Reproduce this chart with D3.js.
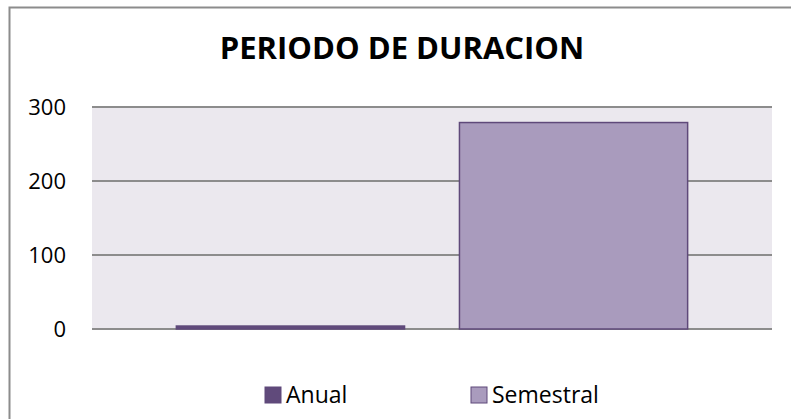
<!DOCTYPE html>
<html>
<head>
<meta charset="utf-8">
<script src="https://cdn.jsdelivr.net/npm/d3@7"></script>
<style>
  body { margin: 0; background: #fff; }
  text { font-family: "Open Sans", "Liberation Sans", sans-serif; }
</style>
</head>
<body>
<svg></svg>
<script>
const title = 'PERIODO DE DURACION';
const series = ['Anual', 'Semestral'];
const values = [4, 279];
const yTicks = [0, 100, 200, 300];
const colors = ['#604a7b', '#a99bbd'];

const WIDTH = 791,
      HEIGHT = 419,
      PLOT = { left: 92, right: 772, top: 107, bottom: 329 };

let svg = d3.select('svg')
   .attr('width', WIDTH)
   .attr('height', HEIGHT);

// outer chart border (runs off the right/bottom edge like the original)
svg.append('rect')
   .attr('x', 9.5).attr('y', 7.5)
   .attr('width', 820).attr('height', 440)
   .attr('fill', '#fff')
   .attr('stroke', '#8c8c8c')
   .attr('stroke-width', 2);

svg.append('rect')
   .attr('x', PLOT.left).attr('y', PLOT.top)
   .attr('width', PLOT.right - PLOT.left)
   .attr('height', PLOT.bottom - PLOT.top)
   .attr('fill', '#ebe8ee');

var x = d3.scaleBand()
   .domain(series)
   .range([PLOT.left, PLOT.right])
   .paddingInner(0.194)
   .paddingOuter(0.298);

var y = d3.scaleLinear()
   .domain([0, 300])
   .range([PLOT.bottom, PLOT.top]);

// gridlines
svg.append('g')
   .selectAll('line')
   .data(yTicks)
   .join('line')
   .attr('x1', PLOT.left).attr('x2', PLOT.right)
   .attr('y1', d => y(d)).attr('y2', d => y(d))
   .attr('stroke', '#8c8c8c')
   .attr('stroke-width', 2);

// y labels
let yAxis = svg.append('g')
   .attr('transform', 'translate(' + (PLOT.left - 26) + ',0)')
   .call(d3.axisLeft(y).tickValues(yTicks).tickSize(0).tickPadding(0));
yAxis.select('.domain').remove();
yAxis.selectAll('text')
   .attr('font-family', '"Open Sans", sans-serif')
   .attr('font-size', 22)
   .attr('fill', '#000');

// bars
svg.append('g')
   .selectAll('rect')
   .data(values)
   .join('rect')
   .attr('x', (d, i) => x(series[i]))
   .attr('y', d => y(d))
   .attr('width', x.bandwidth())
   .attr('height', d => y(0) - y(d))
   .attr('fill', (d, i) => colors[i])
   .attr('stroke', '#5f497a')
   .attr('stroke-width', 1.5);

// title
svg.append('text')
   .attr('x', 402)
   .attr('y', 59)
   .attr('text-anchor', 'middle')
   .attr('font-weight', 'bold')
   .attr('font-size', 31)
   .attr('fill', '#000')
   .text(title);

// legend
const legendX = [265, 471];
let legend = svg.append('g')
   .selectAll('g')
   .data(series)
   .join('g')
   .attr('transform', (d, i) => 'translate(' + legendX[i] + ',387)');
legend.append('rect')
   .attr('width', 16).attr('height', 16)
   .attr('fill', (d, i) => colors[i])
   .attr('stroke', '#5f497a')
   .attr('stroke-width', 1);
legend.append('text')
   .attr('x', 21)
   .attr('y', 16)
   .attr('font-size', 23)
   .attr('fill', '#000')
   .text(d => d);
</script>
</body>
</html>
